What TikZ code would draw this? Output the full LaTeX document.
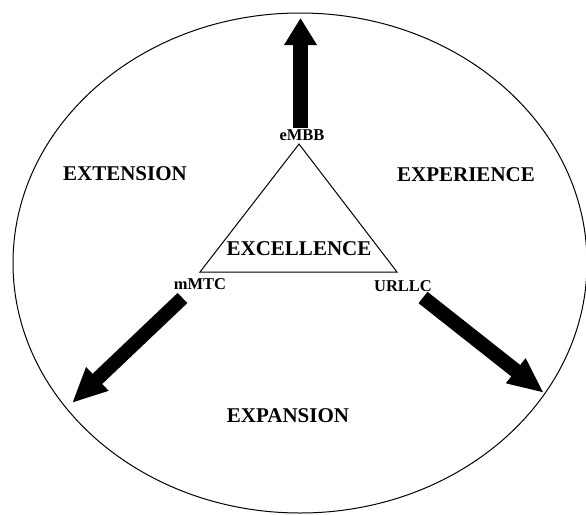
\documentclass[tikz,border=0pt]{standalone}
\usepackage{fontspec}
\setmainfont{Liberation Serif}
\usetikzlibrary{arrows.meta}
\tikzset{
  bigtext/.style={anchor=base, inner sep=0pt, font=\fontsize{21}{25}\selectfont\bfseries},
  smalltext/.style={anchor=base, inner sep=0pt, font=\fontsize{16.5}{20}\selectfont\bfseries},
  outline/.style={draw=black, line width=1pt},
  fatarrow/.style={line width=#1, line cap=butt, draw=black},
}
\begin{document}
\begin{tikzpicture}[x=1pt,y=-1pt]
\useasboundingbox (0,0) rectangle (586,514);
% outer ellipse
\draw[outline] (300,263) ellipse [x radius=287, y radius=250];
% triangle
\coordinate (tA) at (299,144);
\coordinate (tB) at (200,272);
\coordinate (tC) at (397,272);
\draw[outline, line join=miter] (tA) -- (tB) -- (tC) -- cycle;
% labels
\node[smalltext] (embb) at (302,140) {eMBB};
\node[smalltext] (mmtc) at (200,289) {mMTC};
\node[smalltext] (urllc) at (403,291) {URLLC};
\node[bigtext] (excel) at (299,255) {EXCELLENCE};
\node[bigtext] (exten) at (125,180) {EXTENSION};
\node[bigtext] (exper) at (466,181) {EXPERIENCE};
\node[bigtext] (expan) at (288,422) {EXPANSION};
% arrows
\coordinate (upTail) at (300.5,128);
\coordinate (upTip) at (300.5,18);
\coordinate (lTail) at (182.5,298);
\coordinate (lTip) at (72,403);
\coordinate (rTail) at (423,297.5);
\coordinate (rTip) at (544,393);
\draw[fatarrow=15.5pt, -{Triangle[length=27pt,width=31pt]}] (upTail) -- (upTip);
\draw[fatarrow=14pt, -{Triangle[length=35pt,width=30pt]}] (lTail) -- (lTip);
\draw[fatarrow=14.5pt, -{Triangle[length=36pt,width=29pt]}] (rTail) -- (rTip);
\end{tikzpicture}
\end{document}
